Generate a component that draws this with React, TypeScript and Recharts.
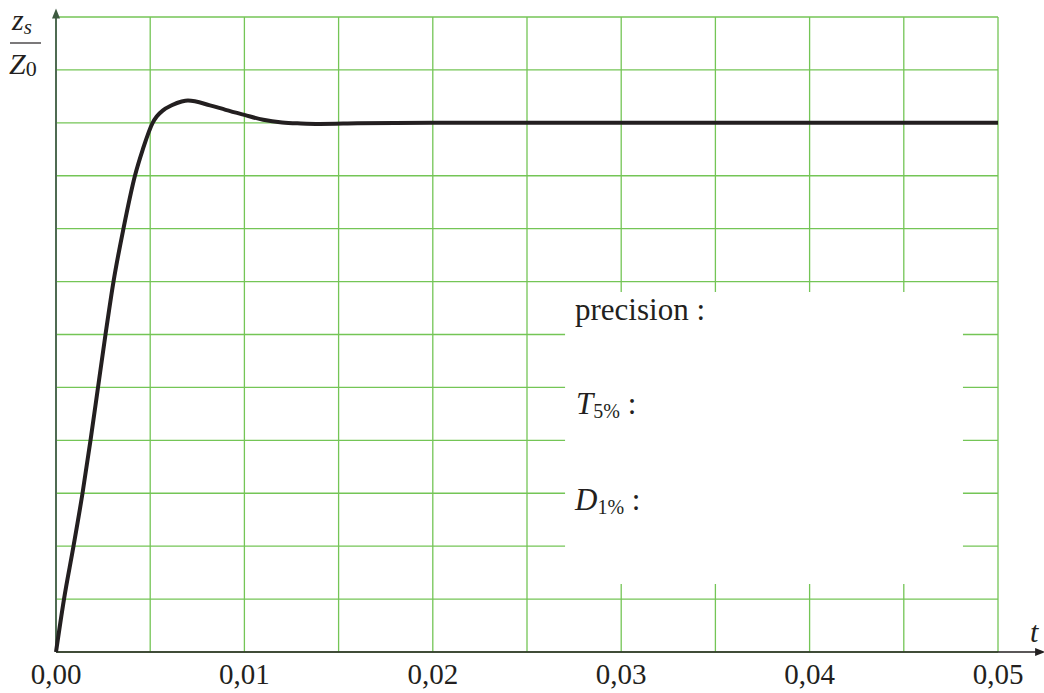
import React from "react";
import {
  LineChart,
  Line,
  XAxis,
  YAxis,
  CartesianGrid,
  ReferenceLine,
  ReferenceArea,
  ReferenceDot,
} from "recharts";

// step response (t in s, z_s / Z_0)
const times = [
  0, 0.000425, 0.000929, 0.001407, 0.001831, 0.002229, 0.002627, 0.003052,
  0.00358, 0.00419, 0.0046, 0.00513, 0.005345, 0.00568, 0.006141, 0.006672,
  0.007006, 0.008174, 0.009, 0.01, 0.011, 0.012, 0.013, 0.014, 0.016, 0.02,
  0.03, 0.04, 0.05,
];
const response = [
  0, 0.1, 0.2, 0.3, 0.4, 0.5, 0.6, 0.7, 0.8, 0.9, 0.949, 1.0, 1.012, 1.0236,
  1.0331, 1.0403, 1.0422, 1.0331, 1.0246, 1.015, 1.0057, 1.0006, 0.9988, 0.998,
  0.999, 1.0, 1.0, 1.0, 1.0,
];

const xTicks = [0, 0.01, 0.02, 0.03, 0.04, 0.05];
const xGrid = [0, 0.005, 0.01, 0.015, 0.02, 0.025, 0.03, 0.035, 0.04, 0.045, 0.05];
const yGrid = [0, 0.1, 0.2, 0.3, 0.4, 0.5, 0.6, 0.7, 0.8, 0.9, 1.0, 1.1, 1.2];

const data = times.map((t, i) => ({ t, z: response[i] }));

const GREEN = "#74c556";
const INK = "#231f20";
const SERIF = "'Liberation Serif', 'DejaVu Serif', serif";

const fmt = (v: number) => v.toFixed(2).replace(".", ",");

const upArrow = (p: any) => (
  <polygon
    points={`${p.cx},${p.cy} ${p.cx - 4},${p.cy + 10} ${p.cx + 4},${p.cy + 10}`}
    fill="#3d5a40"
  />
);
const rightArrow = (p: any) => (
  <polygon
    points={`${p.cx},${p.cy} ${p.cx - 10},${p.cy - 4} ${p.cx - 10},${p.cy + 4}`}
    fill={INK}
  />
);

export default function App() {
  return (
    <div style={{ position: "absolute", left: 0, top: 0, width: 1044, height: 693, background: "#fff" }}>
      <LineChart
        width={1044}
        height={693}
        data={data}
        margin={{ top: 17, right: 46, bottom: 11, left: 56 }}
      >
        <CartesianGrid
          stroke={GREEN}
          strokeWidth={1.3}
          horizontalValues={yGrid}
          verticalValues={xGrid}
        />
        <XAxis
          dataKey="t"
          type="number"
          domain={[0, 0.05]}
          ticks={xTicks}
          tickFormatter={fmt}
          axisLine={false}
          tickLine={false}
          height={30}
          tickMargin={5}
          tick={{ fontSize: 29, fill: INK, fontFamily: SERIF }}
          interval={0}
        />
        <YAxis hide type="number" domain={[0, 1.2]} ticks={yGrid} width={0} />
        <ReferenceArea
          x1={0.02702}
          x2={0.04814}
          y1={0.1285}
          y2={0.6805}
          fill="#ffffff"
          fillOpacity={1}
          stroke="none"
        />
        <ReferenceLine
          segment={[{ x: 0, y: 0 }, { x: 0.0523, y: 0 }]}
          stroke={INK}
          strokeWidth={1.5}
          ifOverflow="visible"
        />
        <ReferenceLine
          segment={[{ x: 0, y: 0 }, { x: 0, y: 1.2 }]}
          stroke="#4f6b52"
          strokeWidth={2}
          ifOverflow="visible"
        />
        <ReferenceDot x={0} y={1.216} ifOverflow="visible" shape={upArrow} />
        <ReferenceDot x={0.0525} y={0} ifOverflow="visible" shape={rightArrow} />
        <Line
          type="monotone"
          dataKey="z"
          stroke={INK}
          strokeWidth={4}
          dot={false}
          isAnimationActive={false}
        />
      </LineChart>
      <svg
        width={1044}
        height={693}
        style={{ position: "absolute", left: 0, top: 0, pointerEvents: "none" }}
        fontFamily={SERIF}
        fill={INK}
      >
        <text x={12} y={30} fontSize={30} fontStyle="italic">
          z<tspan fontSize={21} dy={4}>s</tspan>
        </text>
        <line x1={10} y1={43} x2={41} y2={43} stroke={INK} strokeWidth={1.2} />
        <text x={9} y={74} fontSize={30} fontStyle="italic">
          Z<tspan fontSize={22} fontStyle="normal" dy={2}>0</tspan>
        </text>
        <text x={1030} y={642} fontSize={30} fontStyle="italic">t</text>
        <text x={575} y={320} fontSize={31}>precision :</text>
        <text x={576} y={414} fontSize={31}>
          <tspan fontStyle="italic">T</tspan>
          <tspan fontSize={20} dy={4}>5%</tspan>
          <tspan dy={-4}> :</tspan>
        </text>
        <text x={575} y={510} fontSize={31}>
          <tspan fontStyle="italic">D</tspan>
          <tspan fontSize={20} dy={4}>1%</tspan>
          <tspan dy={-4}> :</tspan>
        </text>
      </svg>
    </div>
  );
}
